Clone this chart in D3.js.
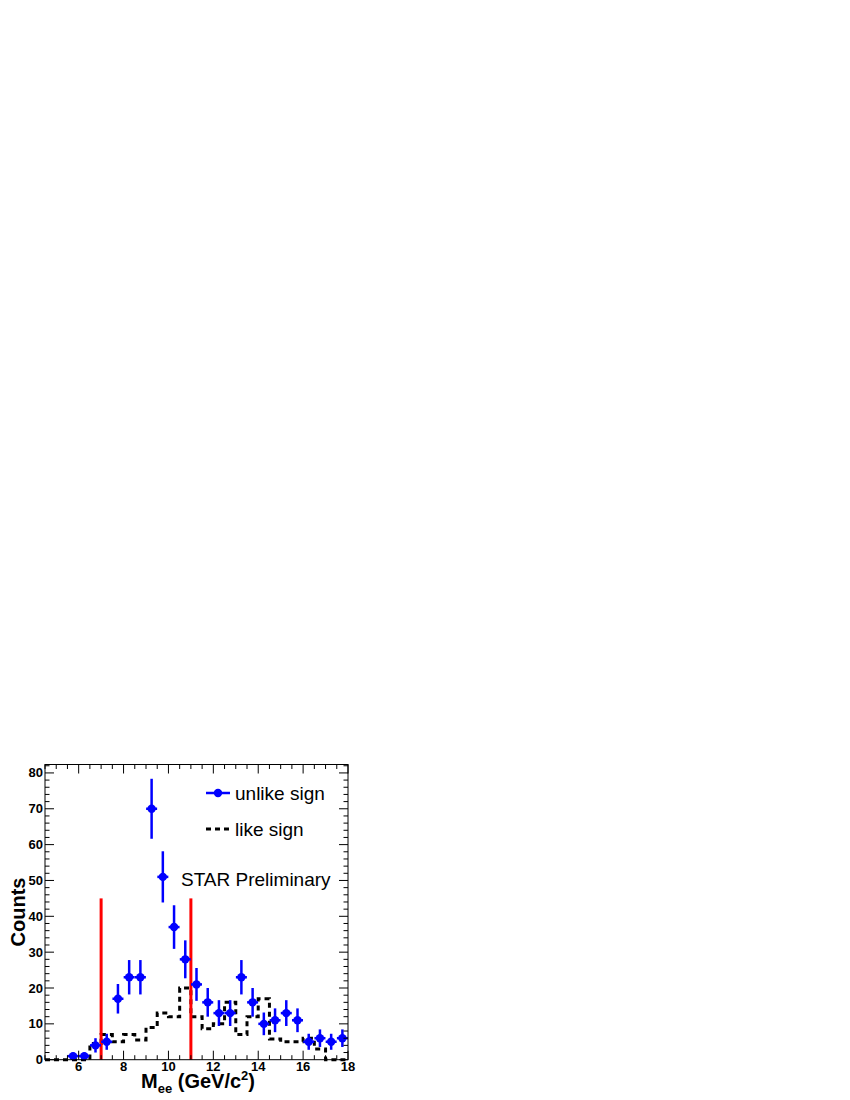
<!DOCTYPE html>
<html><head><meta charset="utf-8">
<script src="https://cdn.jsdelivr.net/npm/d3@7"></script>
<style>body{margin:0;background:#fff}svg{display:block}text{font-family:"Liberation Sans",Arial,Helvetica,sans-serif}</style>
</head><body><svg id="c" width="850" height="1100"></svg>
<script>
// unlike-sign points (bin centres, counts)
const unlikeX = [5.75,6.25,6.75,7.25,7.75,8.25,8.75,9.25,9.75,10.25,10.75,11.25,11.75,12.25,12.75,13.25,13.75,14.25,14.75,15.25,15.75,16.25,16.75,17.25,17.75];
const unlikeY = [1,1,4,5,17,23,23,70,51,37,28,21,16,13,13,23,16,10,11,13,11,5,6,5,6];
// like-sign histogram (bin low edges, contents), bin width 0.5
const likeEdges = [4.5,5,5.5,6,6.5,7,7.5,8,8.5,9,9.5,10,10.5,11,11.5,12,12.5,13,13.5,14,14.5,15,15.5,16,16.5,17,17.5];
const likeY = [0,0,0,0,4.5,7,5,7,5.5,9,13,12,20,12,8.6,10,16,7,12,17,5.8,5,5,6,3,0,0];
const cutLines = [7, 11];
const cutHeight = 45;
const xTicks = [6,8,10,12,14,16,18];
const yTicks = [0,10,20,30,40,50,60,70,80];

const L=45,R=348,T=764.5,B=1059.7;
const svg=d3.select("#c");
const x=d3.scaleLinear().domain([4.5,18]).range([L,R]);
const y=d3.scaleLinear().domain([0,82.35]).range([B,T]);

// like-sign step histogram
const pts=[];
likeEdges.forEach((e,i)=>{pts.push([e,likeY[i]]);pts.push([e+0.5,likeY[i]]);});
svg.append("path").attr("d",d3.line().x(d=>x(d[0])).y(d=>y(d[1]))(pts))
 .attr("fill","none").attr("stroke","#000").attr("stroke-width",3).attr("stroke-dasharray","5,4");

// red cut lines
svg.selectAll(".cut").data(cutLines).enter().append("line")
 .attr("x1",d=>x(d)).attr("x2",d=>x(d)).attr("y1",y(0)).attr("y2",y(cutHeight))
 .attr("stroke","#ff0000").attr("stroke-width",3);

// unlike-sign points with errors
const g=svg.append("g");
unlikeX.forEach((cx,i)=>{
  const v=unlikeY[i], e=Math.sqrt(v);
  g.append("line").attr("x1",x(cx)).attr("x2",x(cx)).attr("y1",y(Math.max(0,v-e))).attr("y2",y(v+e))
   .attr("stroke","#0000ff").attr("stroke-width",2.5);
  g.append("line").attr("x1",x(cx)-5.5).attr("x2",x(cx)+5.5).attr("y1",y(v)).attr("y2",y(v))
   .attr("stroke","#0000ff").attr("stroke-width",2.5);
  g.append("circle").attr("cx",x(cx)).attr("cy",y(v)).attr("r",4.2).attr("fill","#0000ff");
});

// frame
svg.append("rect").attr("x",L).attr("y",T).attr("width",R-L).attr("height",B-T)
 .attr("fill","none").attr("stroke","#000").attr("stroke-width",1);

// ticks
const tk=svg.append("g").attr("stroke","#000").attr("stroke-width",1);
d3.range(4.5,18.001,0.5).forEach(v=>{
  const major=Math.abs(v/2-Math.round(v/2))<1e-6;
  const len=major?9:4.5;
  tk.append("line").attr("x1",x(v)).attr("x2",x(v)).attr("y1",B).attr("y2",B-len);
  tk.append("line").attr("x1",x(v)).attr("x2",x(v)).attr("y1",T).attr("y2",T+len);
});
d3.range(0,82.1,2).forEach(v=>{
  const major=v%10===0;
  const len=major?9:4.5;
  tk.append("line").attr("x1",L).attr("x2",L+len).attr("y1",y(v)).attr("y2",y(v));
  tk.append("line").attr("x1",R).attr("x2",R-len).attr("y1",y(v)).attr("y2",y(v));
});

// tick labels
svg.selectAll(".xl").data(xTicks).enter().append("text")
 .attr("x",d=>x(d)).attr("y",B+11.5).attr("text-anchor","middle")
 .attr("font-size",13).attr("font-weight","bold").text(d=>d);
svg.selectAll(".yl").data(yTicks).enter().append("text")
 .attr("x",L-2).attr("y",d=>y(d)+4.5).attr("text-anchor","end")
 .attr("font-size",13).attr("font-weight","bold").text(d=>d);

// axis titles
const xt=svg.append("text").attr("x",255).attr("y",1088).attr("text-anchor","end")
 .attr("font-size",20).attr("font-weight","bold");
xt.append("tspan").text("M");
xt.append("tspan").attr("font-size",13).attr("dy",5).text("ee");
xt.append("tspan").attr("dy",-5).text(" (GeV/c");
xt.append("tspan").attr("font-size",13).attr("dy",-8).text("2");
xt.append("tspan").attr("dy",8).text(")");

svg.append("text").attr("transform","translate(25,912) rotate(-90)").attr("text-anchor","middle")
 .attr("font-size",20).attr("font-weight","bold").text("Counts");

// legend
svg.append("line").attr("x1",206).attr("x2",230).attr("y1",793).attr("y2",793).attr("stroke","#0000ff").attr("stroke-width",2.5);
svg.append("circle").attr("cx",218).attr("cy",793).attr("r",4.2).attr("fill","#0000ff");
svg.append("text").attr("x",235).attr("y",799.5).attr("font-size",19).text("unlike sign");
svg.append("line").attr("x1",206).attr("x2",230).attr("y1",829).attr("y2",829).attr("stroke","#000").attr("stroke-width",3).attr("stroke-dasharray","5,4");
svg.append("text").attr("x",235).attr("y",835.5).attr("font-size",19).text("like sign");
svg.append("text").attr("x",181).attr("y",885.5).attr("font-size",19).text("STAR Preliminary");
</script></body></html>
